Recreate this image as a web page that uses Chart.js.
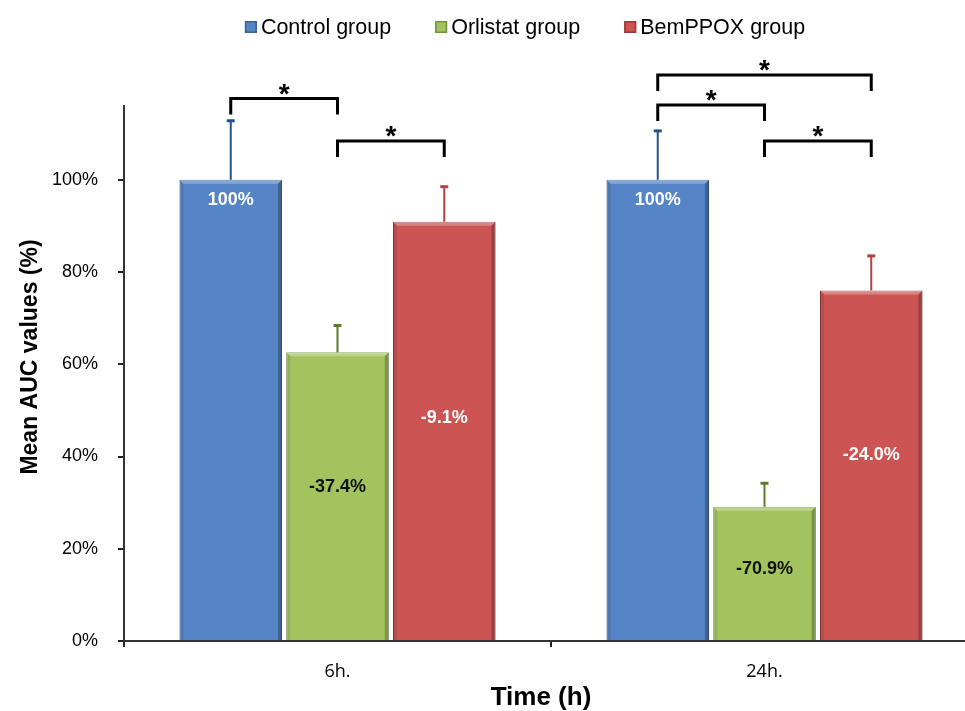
<!DOCTYPE html>
<html>
<head>
<meta charset="utf-8">
<script src="https://cdn.jsdelivr.net/npm/chart.js@4"></script>
<style>
  html, body { margin: 0; padding: 0; background: #fff; overflow: hidden; }
  #wrap { position: absolute; left: 0; top: 0; width: 1050px; height: 711px; }
</style>
</head>
<body>
<div id="wrap"><canvas id="aucChart" width="1050" height="711"></canvas></div>
<script>
// chart values
const timeLabels = ["6h.", "24h."];
const groupNames = ["Control group", "Orlistat group", "BemPPOX group"];
const controlValues = [100, 100];
const orlistatValues = [62.6, 29.1];
const bemppoxValues = [90.9, 76.0];
const controlErrors = [12.8, 10.6];
const orlistatErrors = [5.8, 5.1];
const bemppoxErrors = [7.6, 7.5];
const controlText = ["100%", "100%"];
const orlistatText = ["-37.4%", "-70.9%"];
const bemppoxText = ["-9.1%", "-24.0%"];
// significance brackets: time index, from group, to group, height (%)
const bracketTime = [0, 0, 1, 1, 1];
const bracketFrom = [0, 1, 0, 0, 1];
const bracketTo = [1, 2, 2, 1, 2];
const bracketLevel = [117.6, 108.4, 122.7, 116.2, 108.4];

const fills = ["#5585c7", "#a3c35f", "#cc5554"];
const edges = ["#3a6296", "#74923a", "#963836"];
const errColors = ["#24528c", "#5c7a2a", "#b5403e"];
const textColors = ["#ffffff", "#111111", "#ffffff"];
const errorSets = [controlErrors, orlistatErrors, bemppoxErrors];
const textSets = [controlText, orlistatText, bemppoxText];

// bevels, error bars, in-bar labels, brackets, legend and axis titles
const extras = {
  id: "extras",
  afterDatasetsDraw(chart) {
    const ctx = chart.ctx;
    const y = chart.scales.y;
    ctx.save();
    chart.data.datasets.forEach((ds, i) => {
      chart.getDatasetMeta(i).data.forEach((bar, j) => {
        const l = bar.x - bar.width / 2, r = bar.x + bar.width / 2;
        const t = bar.y, b = bar.base, k = 4;
        ctx.fillStyle = "rgba(255,255,255,0.28)";
        ctx.beginPath();
        ctx.moveTo(l, t); ctx.lineTo(r, t); ctx.lineTo(r - k, t + k); ctx.lineTo(l + k, t + k);
        ctx.closePath(); ctx.fill();
        ctx.fillStyle = "rgba(0,0,0,0.25)";
        ctx.beginPath();
        ctx.moveTo(r, t); ctx.lineTo(r, b); ctx.lineTo(r - k, b); ctx.lineTo(r - k, t + k);
        ctx.closePath(); ctx.fill();
        ctx.fillStyle = "rgba(0,0,0,0.1)";
        ctx.beginPath();
        ctx.moveTo(l, t); ctx.lineTo(l + k, t + k); ctx.lineTo(l + k, b); ctx.lineTo(l, b);
        ctx.closePath(); ctx.fill();

        // error bar
        const v = ds.data[j];
        const top = y.getPixelForValue(v + errorSets[i][j]);
        ctx.strokeStyle = errColors[i];
        ctx.lineWidth = 2;
        ctx.beginPath();
        ctx.moveTo(bar.x, t); ctx.lineTo(bar.x, top);
        ctx.stroke();
        ctx.lineWidth = 3;
        ctx.beginPath();
        ctx.moveTo(bar.x - 4, top); ctx.lineTo(bar.x + 4, top);
        ctx.stroke();

        // label inside bar
        ctx.fillStyle = textColors[i];
        ctx.font = "bold 18px 'Liberation Sans', Arial, sans-serif";
        ctx.textAlign = "center";
        ctx.textBaseline = "middle";
        const ly = i === 0 ? t + 20 : b - (b - t) * 0.53;
        ctx.fillText(textSets[i][j], bar.x, ly);
      });
    });

    // brackets
    ctx.strokeStyle = "#000";
    ctx.lineWidth = 3;
    ctx.lineJoin = "miter";
    ctx.fillStyle = "#000";
    ctx.font = "bold 28px 'Liberation Sans', Arial, sans-serif";
    ctx.textAlign = "center";
    ctx.textBaseline = "alphabetic";
    bracketTime.forEach((ti, n) => {
      const x1 = chart.getDatasetMeta(bracketFrom[n]).data[ti].x;
      const x2 = chart.getDatasetMeta(bracketTo[n]).data[ti].x;
      const yy = y.getPixelForValue(bracketLevel[n]);
      ctx.beginPath();
      ctx.moveTo(x1, yy + 16); ctx.lineTo(x1, yy); ctx.lineTo(x2, yy); ctx.lineTo(x2, yy + 16);
      ctx.stroke();
      ctx.fillText("*", (x1 + x2) / 2, yy + 4);
    });
    ctx.restore();
  },
  afterDraw(chart) {
    const ctx = chart.ctx;
    ctx.save();
    // legend
    ctx.font = "21.5px 'Liberation Sans', Arial, sans-serif";
    const box = 12, gap = 4, spacing = 44;
    const widths = groupNames.map((n) => ctx.measureText(n).width);
    const total = widths.reduce((s, w) => s + box + gap + w, 0) + spacing * (groupNames.length - 1);
    let x = 525 - total / 2;
    const ly = 27;
    groupNames.forEach((n, i) => {
      ctx.fillStyle = fills[i];
      ctx.fillRect(x, ly - box / 2, box, box);
      ctx.strokeStyle = edges[i];
      ctx.lineWidth = 1.5;
      ctx.strokeRect(x + 0.75, ly - box / 2 + 0.75, box - 1.5, box - 1.5);
      ctx.fillStyle = "#000";
      ctx.textAlign = "left";
      ctx.textBaseline = "middle";
      ctx.fillText(n, x + box + gap, ly + 1);
      x += box + gap + widths[i] + spacing;
    });

    // axis titles
    ctx.fillStyle = "#000";
    ctx.textAlign = "center";
    ctx.textBaseline = "middle";
    ctx.font = "bold 26px 'Liberation Sans', Arial, sans-serif";
    ctx.fillText("Time (h)", 541, 698);
    ctx.translate(31, 357);
    ctx.rotate(-Math.PI / 2);
    ctx.font = "bold 23px 'Liberation Sans', Arial, sans-serif";
    ctx.fillText("Mean AUC values (%)", 0, 0);
    ctx.restore();
  }
};

new Chart(document.getElementById("aucChart"), {
  type: "bar",
  data: {
    labels: timeLabels,
    datasets: [
      { label: groupNames[0], data: controlValues },
      { label: groupNames[1], data: orlistatValues },
      { label: groupNames[2], data: bemppoxValues }
    ].map((d, i) => Object.assign(d, {
      backgroundColor: fills[i],
      borderColor: edges[i],
      borderWidth: 1,
      categoryPercentage: 0.75,
      barPercentage: 0.96
    }))
  },
  options: {
    responsive: false,
    animation: false,
    layout: { padding: { top: 106, right: 72, left: 0, bottom: 0 } },
    plugins: { legend: { display: false }, tooltip: { enabled: false } },
    scales: {
      x: {
        grid: { drawOnChartArea: false, tickLength: 6, color: "#222", lineWidth: 2 },
        border: { color: "#333", width: 2 },
        ticks: {
          color: "#000",
          padding: 14,
          font: { family: "'Open Sans', 'Noto Sans', sans-serif", size: 18 }
        },
        afterFit(scale) { scale.height = 70; }
      },
      y: {
        min: 0,
        max: 116,
        grid: { drawOnChartArea: false, tickLength: 6, color: "#222", lineWidth: 2 },
        border: { color: "#333", width: 2 },
        ticks: {
          stepSize: 20,
          includeBounds: false,
          color: "#000",
          padding: 20,
          font: { family: "'Liberation Sans', Arial, sans-serif", size: 18 },
          callback: (v) => v + "%"
        },
        afterFit(scale) { scale.width = 124; }
      }
    }
  },
  plugins: [extras]
});
</script>
</body>
</html>
